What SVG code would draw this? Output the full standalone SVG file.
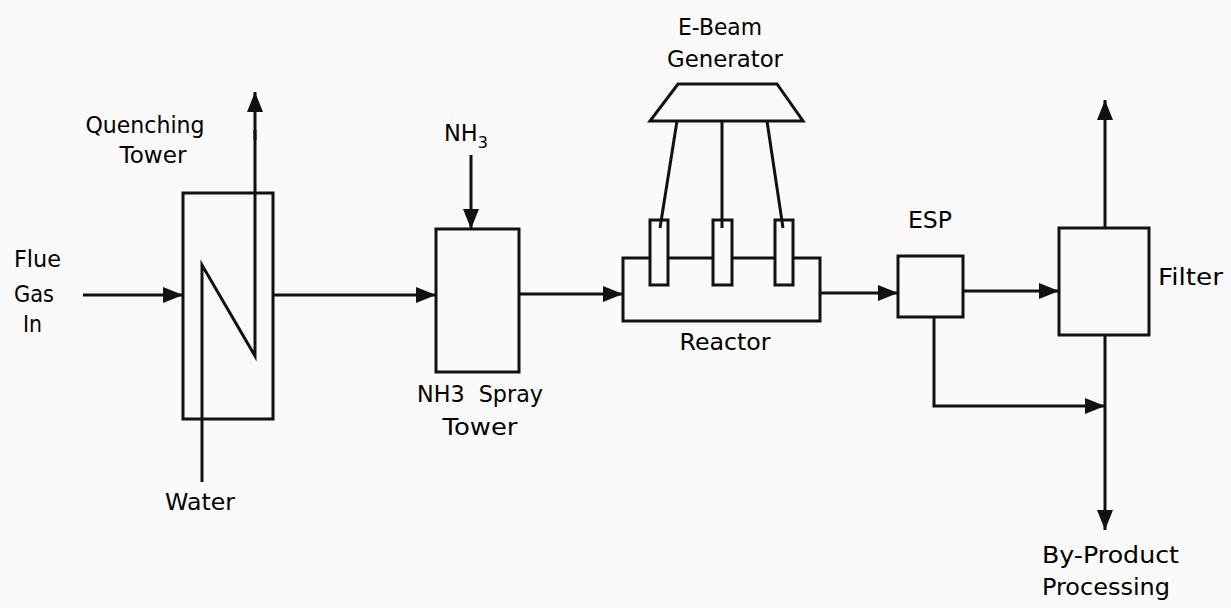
<svg xmlns="http://www.w3.org/2000/svg" width="1231" height="608" viewBox="0 0 1231 608">
<style>
.box{fill:none;stroke:#111;stroke-width:3}
.ln{fill:none;stroke:#111;stroke-width:3}
.arr{fill:none;stroke:#111;stroke-width:3;marker-end:url(#ah)}
text{font-family:"DejaVu Sans","Liberation Sans",sans-serif;font-size:22.5px;fill:#000}
.m{text-anchor:middle}
</style>
<defs>
<marker id="ah" markerUnits="userSpaceOnUse" viewBox="0 0 20 16" markerWidth="20" markerHeight="16" refX="20" refY="8" orient="auto">
<path d="M0,0 L20,8 L0,16 Z" fill="#111"/>
</marker>
</defs>
<rect width="1231" height="608" fill="#fafafa"/>

<g id="flue-gas-label">
<text x="14" y="267" textLength="47" lengthAdjust="spacingAndGlyphs">Flue</text>
<text x="14" y="302" textLength="40" lengthAdjust="spacingAndGlyphs">Gas</text>
<text x="23" y="332" textLength="19" lengthAdjust="spacingAndGlyphs">In</text>
</g>

<g id="quenching-tower">
<rect class="box" x="183" y="193" width="90" height="226"/>
<polyline class="ln" points="202,482 202,265 255,356 255,130"/>
<text class="m" x="145" y="133" textLength="119" lengthAdjust="spacingAndGlyphs">Quenching</text>
<text class="m" x="153" y="163" textLength="67" lengthAdjust="spacingAndGlyphs">Tower</text>
<text class="m" x="200" y="510" textLength="70" lengthAdjust="spacingAndGlyphs">Water</text>
</g>

<g id="nh3-spray-tower">
<rect class="box" x="436" y="229" width="83" height="143"/>
<text class="m" x="480" y="402" textLength="126" lengthAdjust="spacingAndGlyphs" xml:space="preserve">NH3  Spray</text>
<text class="m" x="480" y="435" textLength="75" lengthAdjust="spacingAndGlyphs">Tower</text>
<text x="444" y="141" font-size="21">NH<tspan font-size="16" dy="7">3</tspan></text>
</g>

<g id="e-beam-generator">
<polygon class="box" points="678,84 777,84 803,121 650,121"/>
<text class="m" x="720" y="35" textLength="84" lengthAdjust="spacingAndGlyphs">E-Beam</text>
<text class="m" x="725" y="67" textLength="116" lengthAdjust="spacingAndGlyphs">Generator</text>
</g>

<g id="reactor">
<rect class="box" x="623" y="258" width="197" height="63"/>
<rect x="650" y="220" width="18" height="65" fill="#fafafa" stroke="#111" stroke-width="3"/>
<rect x="713" y="220" width="19" height="65" fill="#fafafa" stroke="#111" stroke-width="3"/>
<rect x="775" y="220" width="18" height="65" fill="#fafafa" stroke="#111" stroke-width="3"/>
<text class="m" x="725" y="350" textLength="91" lengthAdjust="spacingAndGlyphs">Reactor</text>
</g>

<g id="esp">
<rect class="box" x="898" y="256" width="65" height="61"/>
<text class="m" x="930" y="228" textLength="44" lengthAdjust="spacingAndGlyphs">ESP</text>
</g>

<g id="filter">
<rect class="box" x="1059" y="228" width="90" height="107"/>
<text x="1158" y="285" textLength="65" lengthAdjust="spacingAndGlyphs">Filter</text>
</g>

<g id="by-product-label">
<text x="1042" y="563" textLength="137" lengthAdjust="spacingAndGlyphs">By-Product</text>
<text x="1042" y="595" textLength="128" lengthAdjust="spacingAndGlyphs">Processing</text>
</g>

<g id="connectors">
<line class="arr" x1="83" y1="295" x2="183" y2="295"/>
<line class="arr" x1="255" y1="140" x2="255" y2="92"/>
<line class="arr" x1="273" y1="295" x2="436" y2="295"/>
<line class="arr" x1="471" y1="155" x2="471" y2="229"/>
<line class="arr" x1="519" y1="294" x2="623" y2="294"/>
<line class="ln" x1="677" y1="121" x2="660" y2="228"/>
<line class="ln" x1="722" y1="121" x2="722" y2="228"/>
<line class="ln" x1="767" y1="121" x2="783" y2="228"/>
<line class="arr" x1="820" y1="293" x2="898" y2="293"/>
<line class="arr" x1="963" y1="291" x2="1059" y2="291"/>
<line class="arr" x1="1105" y1="228" x2="1105" y2="100"/>
<line class="arr" x1="1105" y1="335" x2="1105" y2="530"/>
<polyline class="arr" points="934,317 934,406 1105,406"/>
</g>
</svg>
